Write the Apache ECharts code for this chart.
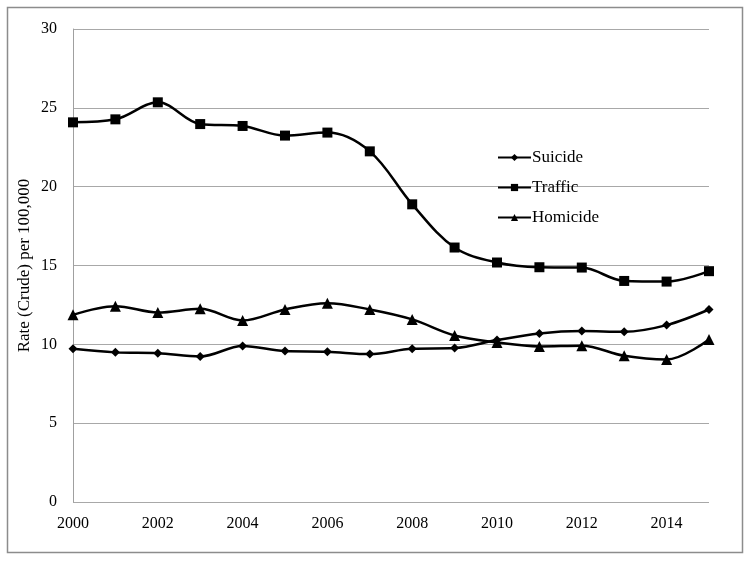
<!DOCTYPE html>
<html><head><meta charset="utf-8">
<script src="https://cdn.jsdelivr.net/npm/echarts@6/dist/echarts.min.js"></script>
<style>html,body{margin:0;padding:0;background:#fff}#c{width:751px;height:561px}</style>
</head><body><div id="c"></div>
<script>
const years = ['2000','2001','2002','2003','2004','2005','2006','2007','2008','2009','2010','2011','2012','2013','2014','2015'];
const suicide = [9.72,9.49,9.44,9.23,9.89,9.57,9.53,9.38,9.72,9.76,10.27,10.69,10.84,10.8,11.22,12.21];
const traffic = [24.08,24.27,25.35,23.97,23.85,23.24,23.43,22.24,18.88,16.14,15.19,14.89,14.87,14.02,13.98,14.64];
const homicide = [11.87,12.42,12.02,12.25,11.51,12.21,12.61,12.21,11.58,10.56,10.12,9.87,9.91,9.27,9.04,10.31];
const yTicks = [0,5,10,15,20,25,30];

const font = '"Liberation Serif","Times New Roman",serif';
const chart = echarts.init(document.getElementById('c'), null, {renderer:'canvas'});
function s(name, data, symbol, size){
  return {name, type:'line', data, smooth:0.35, symbol, symbolSize:size, showSymbol:true,
    lineStyle:{color:'#000', width:2.5}, itemStyle:{color:'#000'}, animation:false, z: 3};
}
chart.setOption({
  animation:false,
  graphic:[{type:'rect', shape:{x:7.5,y:7.5,width:735,height:545}, style:{fill:'none', stroke:'#8c8c8c', lineWidth:1.5}, silent:true}],
  grid:{left:73, right:42, top:29, bottom:59, containLabel:false},
  legend:{
    orient:'vertical', left:492, top:144, itemGap:13, itemWidth:33, itemHeight:9,
    textStyle:{fontFamily:font, fontSize:17, color:'#000', padding:[0,0,0,-4]},
    data:['Suicide','Traffic','Homicide']
  },
  xAxis:{
    type:'category', data:years, boundaryGap:false,
    axisLine:{show:false}, axisTick:{show:false},
    axisLabel:{interval:1, fontFamily:font, fontSize:16, color:'#000', margin:14},
    splitLine:{show:false}
  },
  yAxis:{
    type:'value', min:0, max:30, interval:5,
    name:'Rate (Crude) per 100,000', nameLocation:'middle', nameGap:40, nameMoveOverlap:false,
    nameTextStyle:{fontFamily:font, fontSize:17, color:'#000'},
    axisLine:{show:true, lineStyle:{color:'#a0a0a0', width:1}}, axisTick:{show:false},
    axisLabel:{fontFamily:font, fontSize:16, color:'#000', margin:16,
      formatter: v => yTicks.includes(v) ? String(v) : ''},
    splitLine:{show:true, lineStyle:{color:'#a8a8a8', width:1}}
  },
  series:[
    s('Suicide', suicide, 'diamond', 9),
    s('Traffic', traffic, 'rect', 10),
    s('Homicide', homicide, 'triangle', 11)
  ]
});
</script></body></html>
